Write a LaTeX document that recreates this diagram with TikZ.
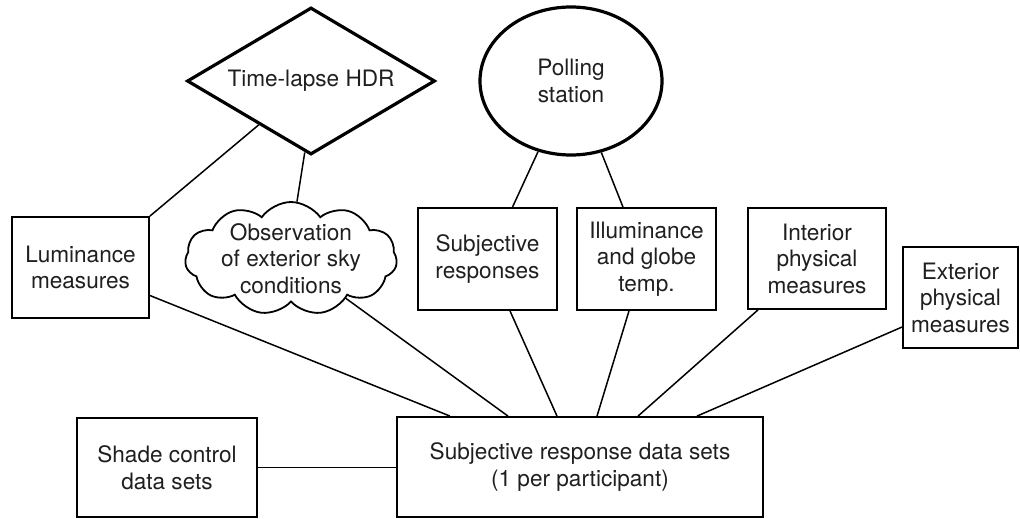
\documentclass[tikz,border=0pt]{standalone}
\usepackage{fontspec}
\setmainfont{TeX Gyre Heros}
\usetikzlibrary{shapes.geometric, shapes.symbols}

\begin{document}
\begin{tikzpicture}[x=1pt, y=-1pt,
    every node/.style={font=\fontsize{22.6}{26.5}\selectfont, text=black!88, align=center},
    box/.style={draw, line width=1.8pt, inner sep=2pt},
    link/.style={line width=1.5pt}]
    \useasboundingbox (0,0) rectangle (1020,519);

    % Sources at the top
    \node[diamond, draw, line width=3.2pt, aspect=1.69, minimum width=248pt, minimum height=147pt, inner sep=0pt] (hdr) at (311,81) {Time-lapse HDR};
    \node[ellipse, draw, line width=3.2pt, minimum width=182pt, minimum height=148pt, inner sep=0pt] (poll) at (571,81) {Polling\\station};

    % Middle row
    \node[box, minimum width=137pt, minimum height=101pt] (lum) at (80.5,267.5) {Luminance\\measures};
    \node[cloud, draw, line width=1.8pt, cloud puffs=11, cloud puff arc=110, aspect=1.9, inner xsep=-20pt, inner ysep=-20pt, minimum width=212pt, minimum height=113pt] (sky) at (291,258.5) {Observation\\of exterior sky\\conditions};
    \node[box, minimum width=139pt, minimum height=102pt] (subj) at (487.5,259) {Subjective\\responses};
    \node[box, minimum width=139pt, minimum height=102pt] (illum) at (646.5,259) {Illuminance\\and globe\\temp.};
    \node[box, minimum width=138pt, minimum height=101pt] (inter) at (817,258.5) {Interior\\physical\\measures};
    \node[box, minimum width=115pt, minimum height=101pt] (ext) at (960.5,297.5) {Exterior\\physical\\measures};

    % Bottom row
    \node[box, minimum width=180pt, minimum height=99pt] (shade) at (167,467.5) {Shade control\\data sets};
    \node[box, minimum width=366pt, minimum height=100pt] (big) at (580,467) {Subjective response data sets\\(1 per participant)};

    % Connectors
    \draw[link] (hdr.220) -- (lum.north east);
    \draw[link] (hdr.265) -- (sky.84);
    \draw[link] (poll.245) -- ([xshift=25pt]subj.north);
    \draw[link] (poll.293) -- ([xshift=-23.5pt]illum.north);
    \draw[link] ([yshift=-28pt]lum.east) -- ([xshift=-130pt]big.north);
    \draw[link] (sky.324) -- ([xshift=-72pt]big.north);
    \draw[link] ([xshift=22.5pt]subj.south) -- ([xshift=-23pt]big.north);
    \draw[link] ([xshift=-17.5pt]illum.south) -- ([xshift=17pt]big.north);
    \draw[link] ([xshift=-59pt]inter.south) -- ([xshift=58pt]big.north);
    \draw[link] ([yshift=-29.5pt]ext.west) -- ([xshift=117pt]big.north);
    \draw[link] (shade.east) -- (shade.east -| big.west);

\end{tikzpicture}
\end{document}
